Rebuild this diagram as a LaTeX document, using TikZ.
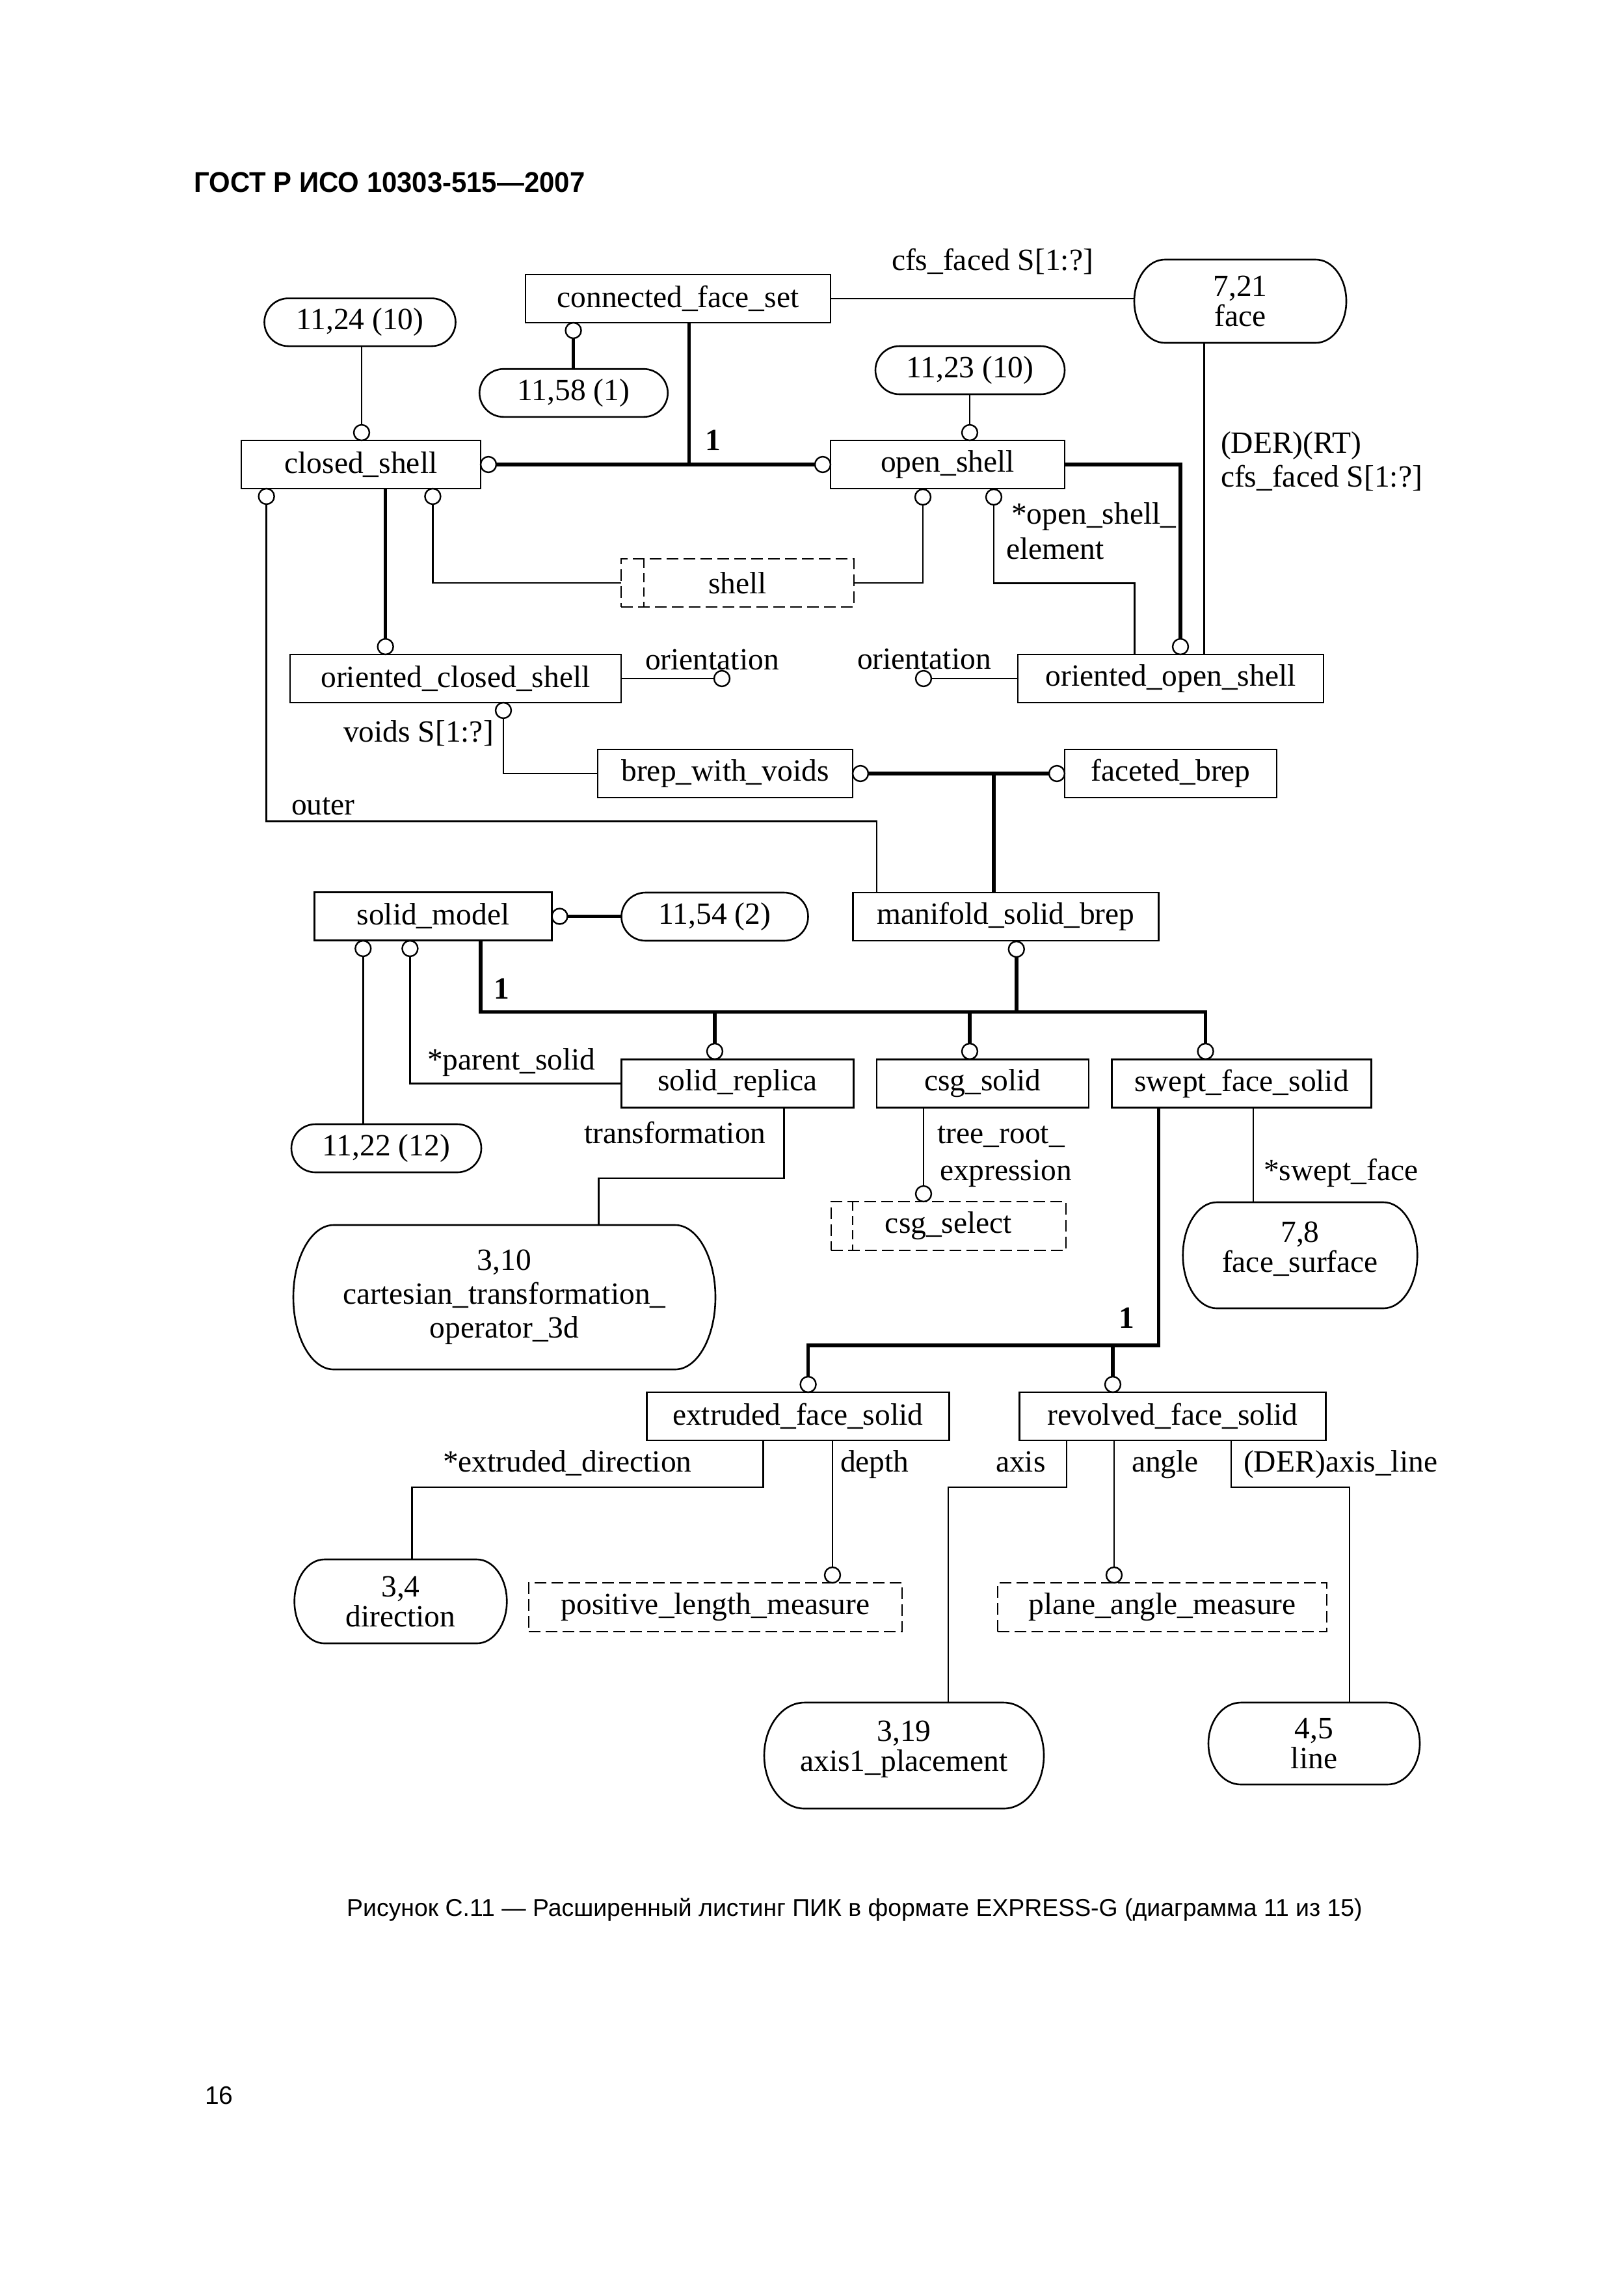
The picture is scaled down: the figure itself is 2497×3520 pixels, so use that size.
\documentclass[tikz,border=0pt]{standalone}
\usepackage{fontspec}
\setmainfont{Liberation Serif}
\newfontfamily\sansf{Liberation Sans}
\usetikzlibrary{calc}
\newcommand{\pilloutline}[3]{\draw[boxline] ([xshift=#2pt]#1.north west) -- ([xshift=-#2pt]#1.north east) arc[start angle=90,end angle=-90,x radius=#2pt,y radius=#3pt] -- ([xshift=#2pt]#1.south west) arc[start angle=270,end angle=90,x radius=#2pt,y radius=#3pt] -- cycle;}
\begin{document}
\begin{tikzpicture}[x=1pt,y=1pt,
  every node/.style={font=\fontsize{47.5}{46}\selectfont},
  ent/.style={draw, line width=2.6pt, inner sep=0, outer sep=0, minimum height=74pt},
  typ/.style={draw, line width=2.8pt, dash pattern=on 18pt off 8pt, inner sep=0, outer sep=0, minimum height=75pt},
  pil/.style={inner sep=0, outer sep=0, align=center},
  circ/.style={circle, draw, line width=2.4pt, fill=white, minimum size=24pt, inner sep=0, outer sep=0},
  thn/.style={line width=2.5pt},
  thk/.style={line width=5.5pt},
  lbl/.style={inner sep=0, outer sep=0, anchor=base west},
  one/.style={inner sep=0, font=\fontsize{47.5}{46}\selectfont\bfseries},
  boxline/.style={line width=2.6pt},
]
\useasboundingbox (0,0) rectangle (2497,-3520);
\fill[white] (0,0) rectangle (2497,-3520);

% header, caption, page number
\node[anchor=base west, inner sep=0, xscale=0.952, font=\fontsize{44}{44}\sansf\bfseries] (hdr) at (298.5,-295) {ГОСТ Р ИСО 10303-515—2007};
\node[anchor=base west, inner sep=0, font=\fontsize{37.4}{37.4}\sansf] (cap) at (533,-2945) {Рисунок С.11 — Расширенный листинг ПИК в формате EXPRESS-G (диаграмма 11 из 15)};
\node[anchor=base west, inner sep=0, font=\fontsize{39}{39}\sansf] (pg) at (315,-3234) {16};

% entities
\node[ent, minimum width=469pt] (cfs) at (1042.5,-459) {connected\_face\_set};
\node[ent, minimum width=368pt] (cs) at (555,-714) {closed\_shell};
\node[ent, minimum width=360pt] (os) at (1457,-714) {open\_shell};
\node[ent, minimum width=509pt] (ocs) at (700.5,-1043) {oriented\_closed\_shell};
\node[ent, minimum width=470pt] (oos) at (1800,-1043) {oriented\_open\_shell};
\node[ent, minimum width=392pt] (bwv) at (1115,-1189) {brep\_with\_voids};
\node[ent, minimum width=326pt] (fb) at (1800,-1189) {faceted\_brep};
\node[ent, minimum width=364.5pt] (sm) at (666,-1408.5) {solid\_model};
\node[ent, minimum width=470pt] (msb) at (1546.5,-1409) {manifold\_solid\_brep};
\node[ent, minimum width=357pt] (sr) at (1134,-1665.5) {solid\_replica};
\node[ent, minimum width=326pt] (csg) at (1511,-1665.5) {csg\_solid};
\node[ent, minimum width=398.5pt] (sfs) at (1909,-1665.5) {swept\_face\_solid};
\node[ent, minimum width=465pt] (efs) at (1226.7,-2177) {extruded\_face\_solid};
\node[ent, minimum width=470.5pt] (rfs) at (1803,-2177) {revolved\_face\_solid};

% types
\node[typ, minimum width=358pt, minimum height=74pt] (shell) at (1134,-896) {shell};
\draw[line width=2.8pt, dash pattern=on 14pt off 8pt] ([xshift=35pt]shell.north west) -- ([xshift=35pt]shell.south west);
\node[typ, minimum width=361pt] (sel) at (1458.5,-1884.5) {csg\_select};
\draw[line width=2.8pt, dash pattern=on 14pt off 8pt] ([xshift=33pt]sel.north west) -- ([xshift=33pt]sel.south west);
\node[typ, minimum width=574pt] (plm) at (1100,-2470.5) {positive\_length\_measure};
\node[typ, minimum width=506pt] (pam) at (1787,-2470.5) {plane\_angle\_measure};

% pills
\node[pil, minimum width=294pt, minimum height=73.5pt] (p1124) at (553.5,-495.3) {11,24 (10)};
\pilloutline{p1124}{37}{36.75}
\node[pil, minimum width=289.5pt, minimum height=73.6pt] (p1158) at (882,-604) {11,58 (1)};
\pilloutline{p1158}{37}{36.8}
\node[pil, minimum width=326pt, minimum height=128pt] (p721) at (1907,-463) {7,21\\face};
\pilloutline{p721}{47}{64}
\node[pil, minimum width=291pt, minimum height=74pt] (p1123) at (1491.5,-569) {11,23 (10)};
\pilloutline{p1123}{37}{37}
\node[pil, minimum width=287pt, minimum height=74pt] (p1154) at (1099,-1409) {11,54 (2)};
\pilloutline{p1154}{37}{37}
\node[pil, minimum width=292pt, minimum height=74pt] (p1122) at (594,-1765) {11,22 (12)};
\pilloutline{p1122}{37}{37}
\node[pil, minimum width=649pt, minimum height=222pt, font=\fontsize{47.5}{52}\selectfont] (p310) at (775.5,-1994) {3,10\\cartesian\_transformation\_\\operator\_3d};
\pilloutline{p310}{62}{111}
\node[pil, minimum width=360.5pt, minimum height=163pt, text depth=26pt] (p78) at (1999,-1929.5) {7,8\\face\_surface};
\pilloutline{p78}{52}{81.5}
\node[pil, minimum width=326.6pt, minimum height=129pt] (p34) at (616,-2461.5) {3,4\\direction};
\pilloutline{p34}{46}{64.5}
\node[pil, minimum width=430pt, minimum height=163pt, text depth=30pt] (p319) at (1390,-2698.5) {3,19\\axis1\_placement};
\pilloutline{p319}{62}{81.5}
\node[pil, minimum width=325pt, minimum height=126pt] (p45) at (2020.5,-2680) {4,5\\line};
\pilloutline{p45}{50}{63}

% labels
\node[lbl] (l1) at (1371,-415) {cfs\_faced S[1:?]};
\node[lbl] (l2) at (1877,-696) {(DER)(RT)};
\node[lbl] (l3) at (1877,-748) {cfs\_faced S[1:?]};
\node[lbl] (l4) at (1555,-805) {*open\_shell\_};
\node[lbl] (l5) at (1547,-859) {element};
\node[lbl] (l6) at (992,-1029) {orientation};
\node[lbl] (l7) at (1318,-1028.6) {orientation};
\node[lbl] (l8) at (528,-1140.6) {voids S[1:?]};
\node[lbl] (l9) at (448,-1252) {outer};
\node[lbl] (l10) at (657,-1644.5) {*parent\_solid};
\node[lbl] (l11) at (898,-1757) {transformation};
\node[lbl] (l12) at (1441.6,-1757) {tree\_root\_};
\node[lbl] (l13) at (1445,-1814) {expression};
\node[lbl] (l14) at (1943,-1814) {*swept\_face};
\node[lbl] (l15) at (681,-2262) {*extruded\_direction};
\node[lbl] (l16) at (1292,-2262) {depth};
\node[lbl] (l17) at (1531,-2262) {axis};
\node[lbl] (l18) at (1740,-2262) {angle};
\node[lbl] (l19) at (1912,-2262) {(DER)axis\_line};

% connected_face_set -- face
\draw[thn] (cfs.east) -- (cfs.east -| p721.west);

% connected_face_set -- 11,58
\node[circ] (c1) at (881.6,-508) {};
\draw[thk] (c1) -- (c1 |- p1158.north);

% 11,24 -- closed_shell
\node[circ] (c2) at (556,-665) {};
\draw[thn] (c2) -- (c2 |- p1124.south);

% supertype connected_face_set
\coordinate (j1) at (1059.6,-714);
\draw[thk] (j1 |- cfs.south) -- (j1);
\node[circ] (c3) at (751,-714) {};
\node[circ] (c4) at (1265,-714) {};
\draw[thk] (c3) -- (c4);
\node[one] (n1) at (1096,-677) {1};

% 11,23 -- open_shell
\node[circ] (c5) at (1491,-665) {};
\draw[thn] (c5) -- (c5 |- p1123.south);

% closed_shell -- oriented_closed_shell
\node[circ] (c6) at (592.7,-994) {};
\draw[thk] (c6) -- (c6 |- cs.south);

% open_shell -- oriented_open_shell
\node[circ] (c7) at (1815,-994) {};
\draw[thk] (os.east) -- (os.east -| c7) -- (c7);

% outer
\node[circ] (c8) at (409.7,-763) {};
\coordinate (j3) at (1348,-1262.7);
\draw[thn] (c8) |- (j3) -- (j3 |- msb.north);

% shell select
\node[circ] (c9) at (665.4,-763) {};
\draw[thn] (c9) |- (shell.west);
\node[circ] (c10) at (1419,-764) {};
\draw[thn] (c10) |- (shell.east);

% open_shell_element
\node[circ] (c11) at (1528,-764) {};
\coordinate (j4) at (1744.5,-896.6);
\draw[thn] (c11) |- (j4) -- (j4 |- oos.north);

% face -- oriented_open_shell
\coordinate (j5) at (1851.7,-527);
\draw[thn] (j5 |- p721.south) -- (j5 |- oos.north);

% orientation
\node[circ] (c12) at (1110,-1043) {};
\draw[thn] (ocs.east) -- (c12);
\node[circ] (c13) at (1420,-1043) {};
\draw[thn] (oos.west) -- (c13);

% voids
\node[circ] (c14) at (774,-1092) {};
\draw[thn] (c14) |- (bwv.west);

% brep_with_voids / faceted_brep -- manifold_solid_brep
\node[circ] (c15) at (1323,-1189) {};
\node[circ] (c16) at (1625,-1189) {};
\draw[thk] (c15) -- (c16);
\coordinate (j6) at (1528,-1189);
\draw[thk] (j6) -- (j6 |- msb.north);

% solid_model -- 11,54
\node[circ] (c17) at (860.5,-1408.5) {};
\draw[thk] (c17) -- (c17 -| p1154.west);

% solid_model -- 11,22
\node[circ] (c18) at (558.3,-1458) {};
\draw[thn] (c18) -- (c18 |- p1122.north);

% parent_solid
\node[circ] (c19) at (630.4,-1458) {};
\draw[thn] (c19) |- (sr.west);

% supertype solid_model
\coordinate (j7) at (738.8,-1555.5);
\coordinate (j8) at (1853.6,-1555.5);
\node[circ] (c20) at (1099,-1616) {};
\node[circ] (c21) at (1491,-1616) {};
\node[circ] (c22) at (1853.6,-1616) {};
\node[circ] (c23) at (1562.8,-1459) {};
\draw[thk] (j7 |- sm.south) -- (j7) -- (j8) -- (c22);
\draw[thk] (c20) -- (c20 |- j7);
\draw[thk] (c21) -- (c21 |- j7);
\draw[thk] (c23) -- (c23 |- j7);
\node[one] (n2) at (771,-1519.5) {1};

% transformation
\coordinate (j9) at (1205.6,-1811);
\coordinate (j10) at (920.5,-1811);
\draw[thn] (j9 |- sr.south) -- (j9) -- (j10) -- (j10 |- p310.north);

% tree_root_expression
\node[circ] (c24) at (1420,-1835) {};
\draw[thn] (c24) -- (c24 |- csg.south);

% swept_face
\coordinate (j11) at (1927,-1703);
\draw[thn] (j11 |- sfs.south) -- (j11 |- p78.north);

% supertype swept_face_solid
\coordinate (j12) at (1781.5,-2068);
\coordinate (j13) at (1242.6,-2068);
\node[circ] (c25) at (1242.6,-2128) {};
\node[circ] (c26) at (1711,-2128) {};
\draw[thk] (j12 |- sfs.south) -- (j12) -- (j13) -- (c25);
\draw[thk] (c26) -- (c26 |- j12);
\node[one] (n3) at (1732.5,-2026) {1};

% extruded_direction
\coordinate (j14) at (1173.7,-2286);
\coordinate (j15) at (633.5,-2286);
\draw[thn] (j14 |- efs.south) -- (j14) -- (j15) -- (j15 |- p34.north);

% depth
\node[circ] (c27) at (1280,-2421) {};
\draw[thn] (c27) -- (c27 |- efs.south);

% axis
\coordinate (j16) at (1640,-2286);
\coordinate (j17) at (1458,-2286);
\draw[thn] (j16 |- rfs.south) -- (j16) -- (j17) -- (j17 |- p319.north);

% angle
\node[circ] (c28) at (1713,-2421) {};
\draw[thn] (c28) -- (c28 |- rfs.south);

% axis_line
\coordinate (j18) at (1893,-2286);
\coordinate (j19) at (2075,-2286);
\draw[thn] (j18 |- rfs.south) -- (j18) -- (j19) -- (j19 |- p45.north);
\end{tikzpicture}
\end{document}
